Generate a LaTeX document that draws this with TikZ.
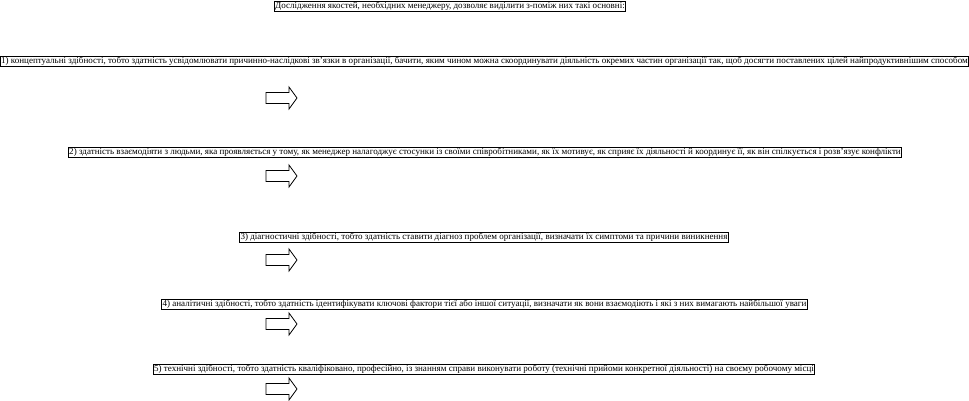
\documentclass[tikz,border=0pt]{standalone}
\usepackage{fontspec}
\setmainfont{Liberation Serif}
\begin{document}
\begin{tikzpicture}[x=1pt,y=-1pt,
  txtbox/.style={draw=black, line width=0.8pt, inner xsep=1pt, inner ysep=0.8pt,
    font=\fontsize{9.04}{10}\selectfont, anchor=center},
  blockarrow/.pic={\draw[line width=0.8pt] (0,-5.5) -- (23,-5.5) -- (23,-11) -- (31,0) -- (23,11) -- (23,5.5) -- (0,5.5) -- cycle;}]
\useasboundingbox (0,0) rectangle (969,400);
\node[txtbox] (t0) at (450,6.5) {Дослідження якостей, необхідних менеджеру, дозволяє виділити з-поміж них такі основні:};
\node[txtbox, inner xsep=0.5pt] (t1) at (484.5,61.5) {1) концептуальні здібності, тобто здатність усвідомлювати причинно-наслідкові зв'язки в організації, бачити, яким чином можна скоординувати діяльність окремих частин організації так, щоб досягти поставлених цілей найпродуктивнішим способом};
\pic at (266,98) {blockarrow};
\node[txtbox] (t2) at (485,152.5) {2) здатність взаємодіяти з людьми, яка проявляється у тому, як менеджер налагоджує стосунки із своїми співробітниками, як їх мотивує, як сприяє їх діяльності й координує її, як він спілкується і розв'язує конфлікти};
\pic at (266,176) {blockarrow};
\node[txtbox] (t3) at (484,237.5) {3) діагностичні здібності, тобто здатність ставити діагноз проблем організації, визначати їх симптоми та причини виникнення};
\pic at (266,260) {blockarrow};
\node[txtbox] (t4) at (484.5,304.5) {4) аналітичні здібності, тобто здатність ідентифікувати ключові фактори тієї або іншої ситуації, визначати як вони взаємодіють і які з них вимагають найбільшої уваги};
\pic at (266,324) {blockarrow};
\node[txtbox] (t5) at (484,369.5) {5) технічні здібності, тобто здатність кваліфіковано, професійно, із знанням справи виконувати роботу (технічні прийоми конкретної діяльності) на своєму робочому місці};
\pic at (266,389) {blockarrow};
\end{tikzpicture}
\end{document}
